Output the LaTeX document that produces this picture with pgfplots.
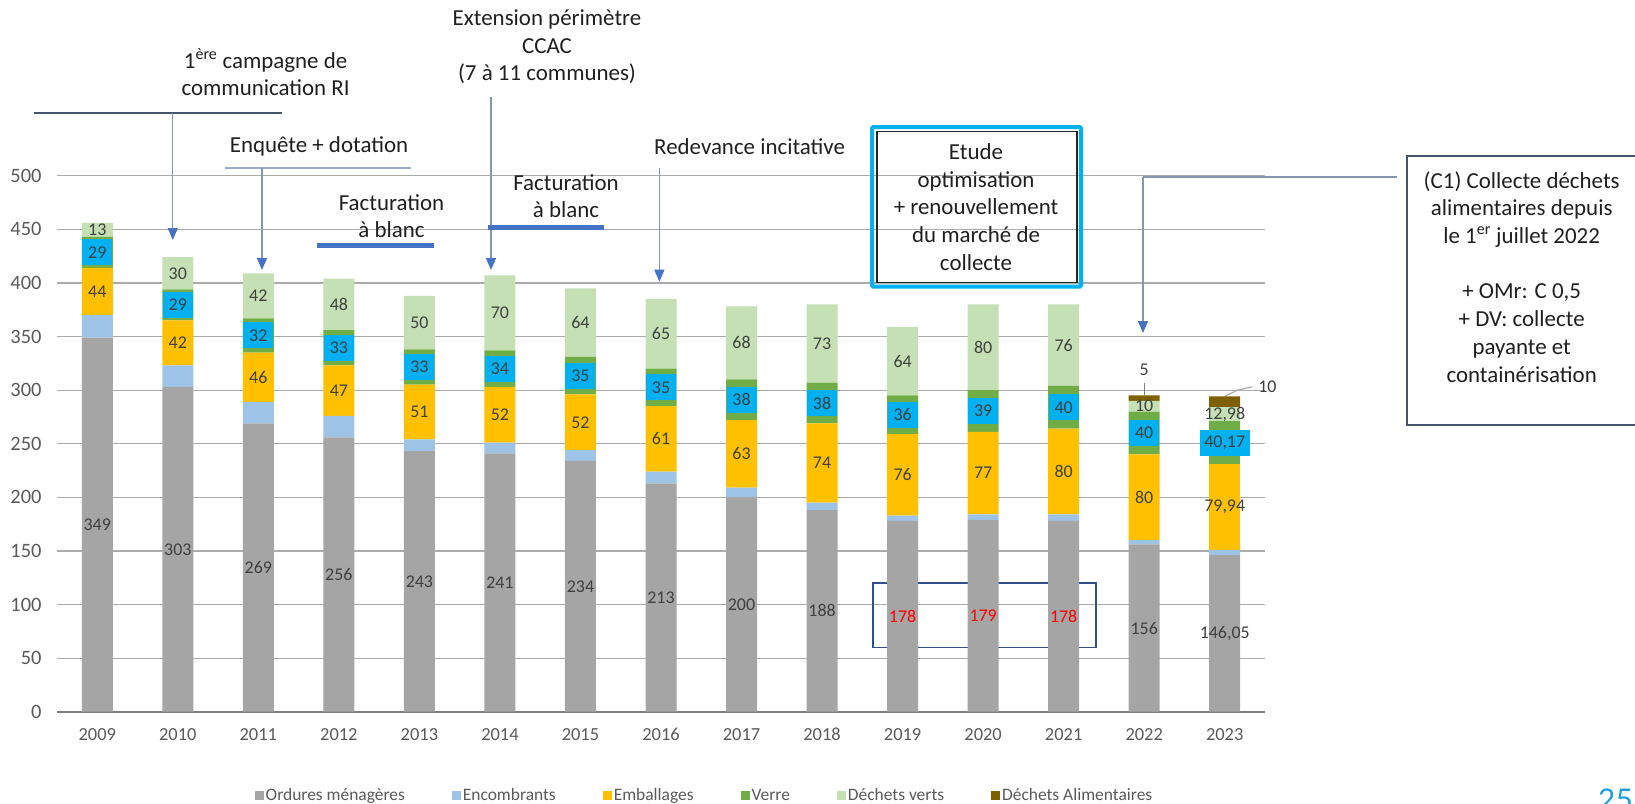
\documentclass[border=0pt]{standalone}
\usepackage{pgfplots}
\pgfplotsset{compat=1.18}
\usepackage{pgfplotstable}
\usetikzlibrary{arrows.meta}
\usepackage{fontspec}
\setmainfont{Carlito}
\newfontfamily\numfont{Lato}

\definecolor{omgray}{HTML}{A5A5A5}
\definecolor{encblue}{HTML}{9DC3E6}
\definecolor{embyellow}{HTML}{FFC000}
\definecolor{verregreen}{HTML}{70AD47}
\definecolor{dvgreen}{HTML}{C5E0B4}
\definecolor{dabrown}{HTML}{7F6000}
\definecolor{labelblue}{HTML}{00B0F0}
\definecolor{labc}{HTML}{404040}
\definecolor{labred}{HTML}{FF0000}
\definecolor{tickgray}{HTML}{595959}
\definecolor{gridgray}{HTML}{ABABAB}
\definecolor{axisgray}{HTML}{7F7F7F}
\definecolor{linegray}{HTML}{8497B0}
\definecolor{darkline}{HTML}{44546A}
\definecolor{lightline}{HTML}{9AAAC8}
\definecolor{arrowblue}{HTML}{4472C4}
\definecolor{cyanbox}{HTML}{00B0F0}
\definecolor{rectblue}{HTML}{2F4F8F}
\definecolor{pagecyan}{HTML}{1F9ED8}

\newcommand\lab{\fontsize{18}{21}\selectfont}
\newcommand\ann{\fontsize{23}{27.8}\selectfont}
\newcommand\R[1]{\textcolor{labred}{#1}}

\pgfplotsset{sq legend/.style={legend image code/.code={\fill[##1] (0bp,-4.5bp) rectangle (9bp,4.5bp);}}}

\pgfplotstableread{
x om oml enc emb embl ver verl dv dvl da dal
0 349 349 21 44 44 29 29 13 13 0 {}
1 303 303 20 42 42 29 29 30 30 0 {}
2 269 269 20 46 46 32 32 42 42 0 {}
3 256 256 20 47 47 33 33 48 48 0 {}
4 243 243 11 51 51 33 33 50 50 0 {}
5 241 241 10 52 52 34 34 70 70 0 {}
6 234 234 10 52 52 35 35 64 64 0 {}
7 213 213 11 61 61 35 35 65 65 0 {}
8 200 200 9 63 63 38 38 68 68 0 {}
9 188 188 7 74 74 38 38 73 73 0 {}
10 178 \R{178} 5 76 76 36 36 64 64 0 {}
11 179 \R{179} 5 77 77 39 39 80 80 0 {}
12 178 \R{178} 6 80 80 40 40 76 76 0 {}
13 156 156 4 80 80 40 40 10 10 5 5
14 146.05 146,05 5 79.94 79,94 40.17 40,17 12.98 12,98 10 10
}\data

\begin{document}
\begin{tikzpicture}
\path[use as bounding box] (0bp,0bp) rectangle (1635bp,-804bp);
\begin{axis}[
  at={(57bp,-711.7bp)}, anchor=south west,
  scale only axis, width=1208bp, height=536bp,
  xmin=-0.5, xmax=14.5, ymin=0, ymax=500,
  ybar stacked, bar width=31bp,
  xtick={0,...,14},
  xticklabels={2009,2010,2011,2012,2013,2014,2015,2016,2017,2018,2019,2020,2021,2022,2023},
  ytick={50,100,...,500},
  extra y ticks={0},
  extra y tick style={grid=major, major grid style={draw=axisgray,line width=1.6bp}},
  ymajorgrids, major grid style={draw=gridgray, line width=1.2bp},
  axis line style={draw=none},
  major tick length=0pt,
  xticklabel style={font=\fontsize{18.5}{21}\selectfont, text=tickgray, anchor=north, text height=13bp, text depth=0pt, yshift=-12bp},
  yticklabel style={font=\fontsize{20.5}{23}\selectfont, text=tickgray, xshift=-12bp},
  /pgf/number format/assume math mode=true,
  clip=false,
  legend columns=6,
  legend style={draw=none, fill=none, at={(axis description cs:0.536,-0.157)}, anchor=center,
    font=\fontsize{17.5}{20}\selectfont, text=tickgray,
    nodes={text height=12.5bp, text depth=3.5bp},
    /tikz/every even column/.append style={column sep=45bp}},
  nodes near coords align=center,
  every node near coord/.append style={font=\lab, anchor=center, text=labc},
]
\addplot[fill=omgray, draw=none, sq legend,
  nodes near coords, point meta=explicit symbolic]
  table[x=x, y=om, meta=oml] {\data};
\addlegendentry{Ordures ménagères}
\addplot[fill=encblue, draw=none, sq legend] table[x=x, y=enc] {\data};
\addlegendentry{Encombrants}
\addplot[fill=embyellow, draw=none, sq legend,
  nodes near coords, point meta=explicit symbolic]
  table[x=x, y=emb, meta=embl] {\data};
\addlegendentry{Emballages}
\addplot[fill=verregreen, draw=none, sq legend,
  nodes near coords, point meta=explicit symbolic,
  every node near coord/.append style={fill=labelblue,
    inner xsep=4.5bp, inner ysep=0pt, minimum height=26bp, minimum width=30bp}]
  table[x=x, y=ver, meta=verl] {\data};
\addlegendentry{Verre}
\addplot[fill=dvgreen, draw=none, sq legend,
  nodes near coords, point meta=explicit symbolic]
  table[x=x, y=dv, meta=dvl] {\data};
\addlegendentry{Déchets verts}
\addplot[fill=dabrown, draw=none, sq legend,
  nodes near coords, point meta=explicit symbolic,
  visualization depends on={\coordindex \as \idx},
  every node near coord/.append style={
    xshift={(\idx==14)*42.7bp}, yshift={(\idx==13)*28bp+(\idx==14)*15bp}}]
  table[x=x, y=da, meta=dal] {\data};
\addlegendentry{Déchets Alimentaires}
\draw[rectblue, line width=1.5bp] (axis cs:9.63,60) rectangle (axis cs:12.4,120);
\draw[axisgray, line width=1.2bp] (axis cs:13,295) -- (axis cs:13,307);
\draw[gridgray, line width=1.2bp] (axis cs:14,294.2) -- (axis cs:14.16,300) -- (axis cs:14.34,303);
\end{axis}

\begin{scope}[x=1bp,y=-1bp, arr/.style={draw=linegray, line width=1.2bp, -{Triangle[length=12bp,width=10bp,color=arrowblue]}}]
% 1ere campagne
\node[font=\ann, align=center, text=black!88] at (265.6,72) {1\textsuperscript{ère} campagne de\\communication RI};
\draw[darkline, line width=1.6bp] (33.5,112.7) -- (282,112.7);
\draw[arr] (172.8,112.7) -- (172.8,240);
% Enquete
\node[font=\ann, text=black!88] at (319,146.7) {Enquête + dotation};
\draw[lightline, line width=1.6bp] (225,167.7) -- (411,167.7);
\draw[arr] (262,167.7) -- (262,270);
% Facturation 1
\node[font=\ann, align=center, text=black!88] at (391.5,216.3) {Facturation\\à blanc};
\draw[arrowblue, line width=5bp] (317,245) -- (434,245);
% Extension
\node[font=\ann, align=center, text=black!88] at (547,47) {Extension périmètre\\CCAC\\(7 à 11 communes)};
\draw[arr] (491,96.7) -- (491,270);
% Facturation 2
\node[font=\ann, align=center, text=black!88] at (566,196.3) {Facturation\\à blanc};
\draw[arrowblue, line width=5bp] (487.5,227.7) -- (603.6,227.7);
% Redevance
\node[font=\ann, text=black!88] at (749.6,146.7) {Redevance incitative};
\draw[arr] (659.4,168) -- (659.4,281.7);
% Etude box
\draw[cyanbox, line width=4bp, rounded corners=1.5bp] (872,127) rectangle (1081,286.7);
\draw[black!85, line width=1.2bp] (877,131.7) rectangle (1077,282.7);
\node[font=\ann, align=center, text=black!88] at (976,207) {Etude\\optimisation\\+ renouvellement\\du marché de\\collecte};
% C1 connector
\draw[linegray, line width=1.2bp] (1397,177) -- (1143,177);
\draw[arr] (1143,177) -- (1143,333);
% right box
\draw[darkline, line width=1.6bp, fill=white] (1406.7,156) rectangle (1660,425);
\node[font=\ann, align=center, text=black!88] at (1521.7,276.8) {(C1) Collecte déchets\\alimentaires depuis\\le 1\textsuperscript{er} juillet 2022\\[27.8bp]+ OMr: C 0,5\\+ DV: collecte\\payante et\\containérisation};
% page number
\node[font=\numfont\fontsize{30}{30}\selectfont, text=pagecyan, anchor=base west, inner sep=0pt] at (1598,810) {25};
\end{scope}
\end{tikzpicture}
\end{document}
